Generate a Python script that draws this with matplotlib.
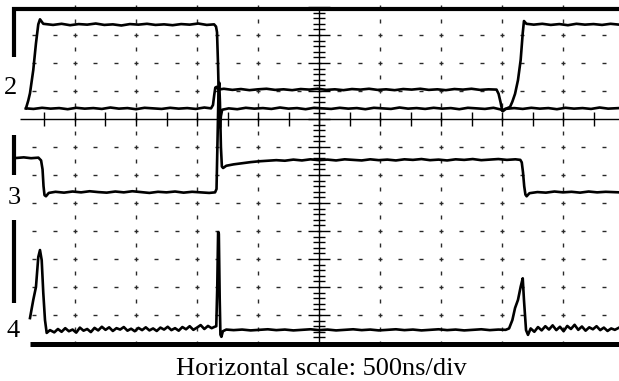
import matplotlib
matplotlib.use("Agg")
import matplotlib.pyplot as plt
import numpy as np

# ---------------- data (time in ns, amplitude in screen divisions) ----------------
CAPTION = "Horizontal scale: 500ns/div"
CHANNEL_LABELS = ["2", "3", "4"]
NS_PER_DIV = 500

CH2A_T = [98, 117, 131, 158, 180, 199, 213, 240, 320, 390, 460, 530, 600, 670, 740, 810,
          880, 950, 1020, 1090, 1160, 1230, 1300, 1370, 1440, 1510, 1580, 1640,
          1656, 1664, 1672, 1680, 1688, 1696, 1706,
          1760, 1830, 1900, 1970, 2040, 2110, 2180, 2250, 2320, 2390, 2460, 2530, 2600,
          2670, 2740, 2810, 2880, 2950, 3020, 3090, 3160, 3230, 3300, 3370, 3440, 3510,
          3580, 3650, 3720, 3790, 3860, 3930, 3990, 4008, 4030, 4050,
          4066, 4085, 4107, 4131, 4153, 4170, 4180, 4200,
          4260, 4330, 4400, 4470, 4540, 4610, 4680, 4750, 4820, 4890, 4960]
CH2A_V = [8.38, 8.66, 8.92, 9.75, 10.70, 11.38, 11.56, 11.40, 11.36, 11.40, 11.35, 11.39,
          11.37, 11.41, 11.36, 11.38, 11.34, 11.39, 11.37, 11.40, 11.36, 11.38, 11.35,
          11.39, 11.37, 11.41, 11.36, 11.38,
          11.30, 11.10, 10.00, 8.50, 7.70, 8.10, 8.33,
          8.38, 8.35, 8.40, 8.37, 8.39, 8.36, 8.41, 8.37, 8.39, 8.35, 8.40, 8.38, 8.36,
          8.40, 8.37, 8.39, 8.35, 8.40, 8.38, 8.36, 8.41, 8.37, 8.39, 8.36, 8.40, 8.37,
          8.39, 8.35, 8.40, 8.38, 8.36, 8.40, 8.34, 8.28, 8.36, 8.40,
          8.43, 8.62, 8.90, 9.39, 10.11, 11.07, 11.50, 11.40,
          11.37, 11.40, 11.36, 11.39, 11.35, 11.40, 11.37, 11.39, 11.36, 11.40, 11.37]

CH2B_T = [98, 160, 230, 300, 370, 440, 510, 580, 650, 720, 790, 860, 930, 1000, 1070,
          1140, 1210, 1280, 1350, 1420, 1490, 1560, 1615,
          1631, 1641, 1650, 1662, 1675,
          1720, 1790, 1860, 1930, 2000, 2070, 2140, 2210, 2280, 2350, 2420, 2490, 2560,
          2630, 2700, 2770, 2840, 2910, 2980, 3050, 3120, 3190, 3260, 3330, 3400, 3470,
          3540, 3610, 3680, 3750, 3820, 3890, 3955,
          3972, 3988, 4002, 4025,
          4100, 4170, 4240, 4310, 4380, 4450, 4520, 4590, 4660, 4730, 4800, 4870, 4960]
CH2B_V = [8.38, 8.36, 8.40, 8.37, 8.39, 8.35, 8.40, 8.37, 8.39, 8.36, 8.41, 8.37, 8.39,
          8.35, 8.40, 8.38, 8.36, 8.40, 8.37, 8.39, 8.36, 8.41, 8.38,
          8.50, 8.85, 9.12, 9.15, 9.05,
          9.08, 9.04, 9.07, 9.03, 9.06, 9.08, 9.04, 9.06, 9.03, 9.07, 9.05, 9.08, 9.04,
          9.06, 9.03, 9.07, 9.05, 9.08, 9.04, 9.06, 9.03, 9.07, 9.05, 9.08, 9.04, 9.06,
          9.03, 9.07, 9.05, 9.08, 9.04, 9.06, 9.05,
          8.90, 8.60, 8.30, 8.36,
          8.39, 8.36, 8.40, 8.37, 8.39, 8.35, 8.40, 8.37, 8.39, 8.36, 8.41, 8.37, 8.39]

CH3_T = [25, 80, 140, 200, 222, 234, 242, 250, 262, 285,
         340, 410, 480, 550, 620, 690, 760, 830, 900, 970, 1040, 1110, 1180, 1250, 1320,
         1390, 1460, 1530, 1600, 1648,
         1660, 1668, 1676, 1682, 1688, 1696, 1704, 1714, 1740,
         1800, 1870, 1940, 2010, 2080, 2150, 2220, 2290, 2360, 2430, 2500, 2570, 2640,
         2710, 2780, 2850, 2920, 2990, 3060, 3130, 3200, 3270, 3340, 3410, 3480, 3550,
         3620, 3690, 3760, 3830, 3900, 3970, 4040, 4110, 4150,
         4162, 4172, 4182, 4192, 4202, 4225,
         4290, 4360, 4430, 4500, 4570, 4640, 4710, 4780, 4850, 4960]
CH3_V = [6.61, 6.63, 6.60, 6.62, 6.52, 6.20, 5.60, 5.28, 5.24, 5.36,
         5.40, 5.37, 5.41, 5.38, 5.42, 5.39, 5.37, 5.41, 5.38, 5.42, 5.39, 5.36, 5.40,
         5.38, 5.41, 5.37, 5.40, 5.38, 5.36, 5.38,
         5.50, 7.20, 8.90, 9.30, 8.60, 7.00, 6.30, 6.25, 6.33,
         6.38, 6.42, 6.46, 6.49, 6.51, 6.53, 6.51, 6.55, 6.52, 6.56, 6.53, 6.55, 6.52,
         6.56, 6.54, 6.52, 6.56, 6.53, 6.55, 6.52, 6.56, 6.54, 6.57, 6.53, 6.55, 6.52,
         6.56, 6.54, 6.57, 6.53, 6.55, 6.57, 6.54, 6.56, 6.54,
         6.45, 6.10, 5.60, 5.30, 5.24, 5.35,
         5.39, 5.37, 5.41, 5.38, 5.40, 5.37, 5.41, 5.38, 5.40, 5.38]

CH4_T = [131, 158, 180, 199, 213, 227, 240, 254, 268, 295,
         330, 360, 390, 420, 450, 480, 510, 540, 570, 600, 630, 660, 690, 720, 750, 780,
         810, 840, 870, 900, 930, 960, 990, 1020, 1050, 1080, 1110, 1140, 1170, 1200,
         1230, 1260, 1290, 1320, 1350, 1380, 1410, 1440, 1470, 1500, 1530, 1560, 1590,
         1620, 1645,
         1658, 1666, 1673, 1679, 1686, 1692, 1700, 1712, 1740,
         1800, 1870, 1940, 2010, 2080, 2150, 2220, 2290, 2360, 2430, 2500, 2570, 2640,
         2710, 2780, 2850, 2920, 2990, 3060, 3130, 3200, 3270, 3340, 3410, 3480, 3550,
         3620, 3690, 3760, 3830, 3900, 3970, 4030,
         4058, 4085, 4107, 4131, 4153, 4170, 4180, 4197, 4213,
         4235, 4265, 4295, 4325, 4355, 4385, 4415, 4445, 4475, 4505, 4535, 4565, 4595,
         4625, 4655, 4685, 4715, 4745, 4775, 4805, 4835, 4865, 4895, 4925, 4960]
CH4_V = [0.89, 1.54, 2.00, 3.07, 3.32, 2.96, 1.79, 0.82, 0.36, 0.46,
         0.38, 0.50, 0.40, 0.53, 0.42, 0.48, 0.37, 0.55, 0.44, 0.50, 0.39, 0.54, 0.45,
         0.58, 0.47, 0.56, 0.43, 0.53, 0.48, 0.57, 0.44, 0.51, 0.42, 0.54, 0.46, 0.56,
         0.45, 0.52, 0.43, 0.55, 0.48, 0.58, 0.46, 0.53, 0.44, 0.57, 0.49, 0.60, 0.47,
         0.55, 0.64, 0.50, 0.61, 0.53, 0.58,
         0.60, 2.00, 3.96, 3.90, 1.60, 0.30, 0.22, 0.42, 0.48,
         0.46, 0.48, 0.45, 0.47, 0.49, 0.46, 0.48, 0.45, 0.47, 0.49, 0.46, 0.48, 0.45,
         0.47, 0.49, 0.46, 0.48, 0.45, 0.47, 0.49, 0.46, 0.48, 0.45, 0.47, 0.49, 0.46,
         0.48, 0.45, 0.47, 0.49, 0.46, 0.48, 0.47,
         0.52, 0.82, 1.25, 1.54, 2.01, 2.31, 1.54, 0.46, 0.29,
         0.52, 0.40, 0.57, 0.45, 0.60, 0.48, 0.63, 0.46, 0.58, 0.42, 0.61, 0.50, 0.65,
         0.47, 0.59, 0.44, 0.56, 0.49, 0.60, 0.46, 0.55, 0.43, 0.52, 0.47, 0.55]

# channel marker bars (ground reference markers) : (v_top, v_bottom)
MARKERS = [(12.0, 10.21), (7.43, 6.0), (4.39, 1.43)]
LABEL_POS = [(-25, 8.90), (0, 4.95), (-4, 0.23)]

# ---------------- figure ----------------
fig = plt.figure(figsize=(6.19, 3.81), dpi=100)
ax = fig.add_axes([0, 0, 1, 1])
ax.set_xlim(-114.75, 4959.0)
ax.set_ylim(-1.357, 12.25)
ax.axis("off")

grid_kw = dict(color="#2a2a2a", lw=1.0, zorder=1)
# horizontal dashed rows
rows = [v for v in range(1, 12) if v != 8]
dash_t = np.arange(1, 30) * NS_PER_DIV / 3
for v in rows:
    ax.hlines([v] * len(dash_t), dash_t - 17, dash_t + 17, **grid_kw)
# vertical dashed columns
cols = [k * NS_PER_DIV for k in range(1, 10) if k != 5]
dash_v = np.arange(0, 25) * 0.5
for t in cols:
    ax.vlines([t] * len(dash_v), dash_v - 0.08, dash_v + 0.08, **grid_kw)

axis_kw = dict(color="black", lw=1.0, zorder=2)
# horizontal axis at v = 8 with ticks every half division
ax.hlines(8.0, 49, 5000, **axis_kw)
tt = np.arange(1, 20) * NS_PER_DIV / 2
ax.vlines(tt, 8.0 - 0.25, 8.0 + 0.25, **axis_kw)
# vertical axis at centre with ticks every 0.2 division
tc = 5 * NS_PER_DIV
ax.vlines(tc, -0.04, 11.94, **axis_kw)
vv = np.arange(0, 61) * 0.2
major = np.isclose(vv, np.round(vv))
ax.hlines(vv[~major], tc - 53, tc + 53, **axis_kw)
ax.hlines(vv[major], tc - 94, tc + 94, **axis_kw)

# frame: top and bottom thick lines
ax.plot([-16, 5000], [11.94, 11.94], color="black", lw=3.0, solid_capstyle="butt", zorder=3)
ax.plot([131, 5000], [-0.04, -0.04], color="black", lw=3.6, solid_capstyle="butt", zorder=3)
for top, bot in MARKERS:
    ax.plot([0, 0], [top, bot], color="black", lw=3.0, solid_capstyle="butt", zorder=3)

tr_kw = dict(color="black", lw=1.9, zorder=4, solid_joinstyle="round")
ax.plot(CH2A_T, CH2A_V, **tr_kw)
ax.plot(CH2B_T, CH2B_V, **tr_kw)
ax.plot(CH3_T, CH3_V, **tr_kw)
ax.plot(CH4_T, CH4_V, **tr_kw)

font = ["Liberation Serif", "DejaVu Serif"]
for lab, (t, v) in zip(CHANNEL_LABELS, LABEL_POS):
    ax.text(t, v, lab, family=font, fontsize=19, ha="center", va="baseline", zorder=5)
ax.text(2520, -1.143, CAPTION, family=font, fontsize=19, ha="center", va="baseline")

fig.savefig("out.png", dpi=100)
